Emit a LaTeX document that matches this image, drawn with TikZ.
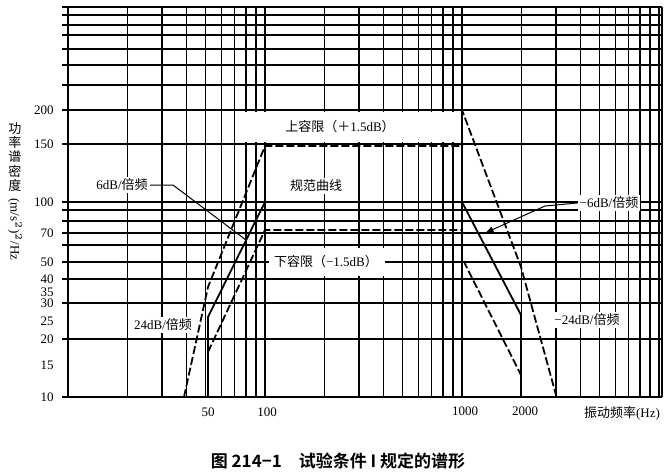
\documentclass[tikz,border=0pt]{standalone}
\usepackage{fontspec}
\setmainfont{Liberation Serif}
\newfontfamily\cjk{Noto Sans CJK SC}
\newfontfamily\cjkb{Noto Sans CJK SC Bold}
\begin{document}
\begin{tikzpicture}[x=0.5pt,y=-0.5pt,
  grid/.style={line width=0.65pt},
  spec/.style={line width=0.9pt},
  lim/.style={line width=0.9pt,dash pattern=on 4pt off 1.5pt},
  lbl/.style={font=\fontsize{6.5}{7}\selectfont,inner sep=1pt},
  wlbl/.style={lbl,fill=white},
  ytick/.style={lbl,anchor=east}]
\useasboundingbox (0,0) rectangle (670,473);
% vertical grid lines: x = 68 + 85.556*ln(f/10)
\foreach \f in {10,20,30,40,50,60,70,80,90,100,200,300,400,500,600,700,800,900,1000,2000,3000,4000,5000,6000,7000,8000,9000,10000}{
  \pgfmathsetmacro\xx{68+85.556*ln(\f/10)}
  \draw[grid] (\xx,7) -- (\xx,397);
}
\draw[grid] (662,7) -- (662,397);
\foreach \y in {7,15,25,35,49,65,85,110,144,202,210,221,233,245,262,279,303,339,397}{
  \draw[grid] (62,\y) -- (662,\y);
}
% white label boxes
\fill[white] (238,112) rectangle (456,142);
\fill[white] (269,248) rectangle (385,276);
\node[wlbl] (up) at (340,127) {\cjk 上容限（＋\rmfamily 1.5dB\cjk ）};
\node[wlbl] (spc) at (316,186) {\cjk 规范曲线};
\node[wlbl] (lo) at (326,262) {\cjk 下容限（\rmfamily −1.5dB\cjk ）};
\node[wlbl] (s6) at (122,185) {6dB/\cjk 倍频};
\node[wlbl] (s24) at (163,325) {24dB/\cjk 倍频};
\node[wlbl] (m6) at (609,203) {−6dB/\cjk 倍频};
\node[wlbl] (m24) at (587,320) {−24dB/\cjk 倍频};
% curves
\coordinate (a1) at (208,317); \coordinate (a2) at (265,202);
\coordinate (a3) at (462,202); \coordinate (a4) at (521,315);
\draw[spec] (208,397) -- (a1) -- (a2) -- (a3) -- (a4) -- (521,397);
\draw[lim] (184,397) -- (208,287) -- (265,146) -- (462,146) -- (462,110) -- (521,267) -- (556,395);
\draw[lim] (208,352) -- (265,230) -- (462,230) -- (462,258) -- (521,375);
% leaders
\coordinate (l1) at (173,185); \coordinate (l2) at (246,240);
\draw[line width=0.5pt] (s6.east) -- (l1) -- (l2);
\coordinate (r1) at (545,206);
\draw[line width=0.5pt] (m6.west) -- (r1);
\draw[line width=0.5pt,-latex] (r1) -- (485,233);
% y tick labels
\foreach \v/\y in {200/110,150/144,100/202,70/233,50/262,40/279,35/292,30/303,25/321,20/339,15/365,10/397}{
  \node[ytick] (t\v) at (56,\y) {\v};
}
\node[lbl] (x50) at (208,412) {50};
\node[lbl] (x100) at (267,412) {100};
\node[lbl] (x1000) at (465,411) {1000};
\node[lbl] (x2000) at (525,411) {2000};
\node[lbl] (xt) at (622,413) {\cjk 振动频率\rmfamily(Hz)};
\node[lbl,align=center,font=\fontsize{6.5}{7.2}\selectfont\cjk,anchor=north] (yt1) at (15,120) {功\\率\\谱\\密\\度};
\node[lbl,rotate=-90,anchor=west] (yt2) at (15,196) {(m/s$^2$)$^2$/Hz};
\node[font=\fontsize{8.5}{10}\selectfont\cjkb] (cap) at (338,461) {图 214−1\quad 试验条件 I 规定的谱形};
\end{tikzpicture}
\end{document}
